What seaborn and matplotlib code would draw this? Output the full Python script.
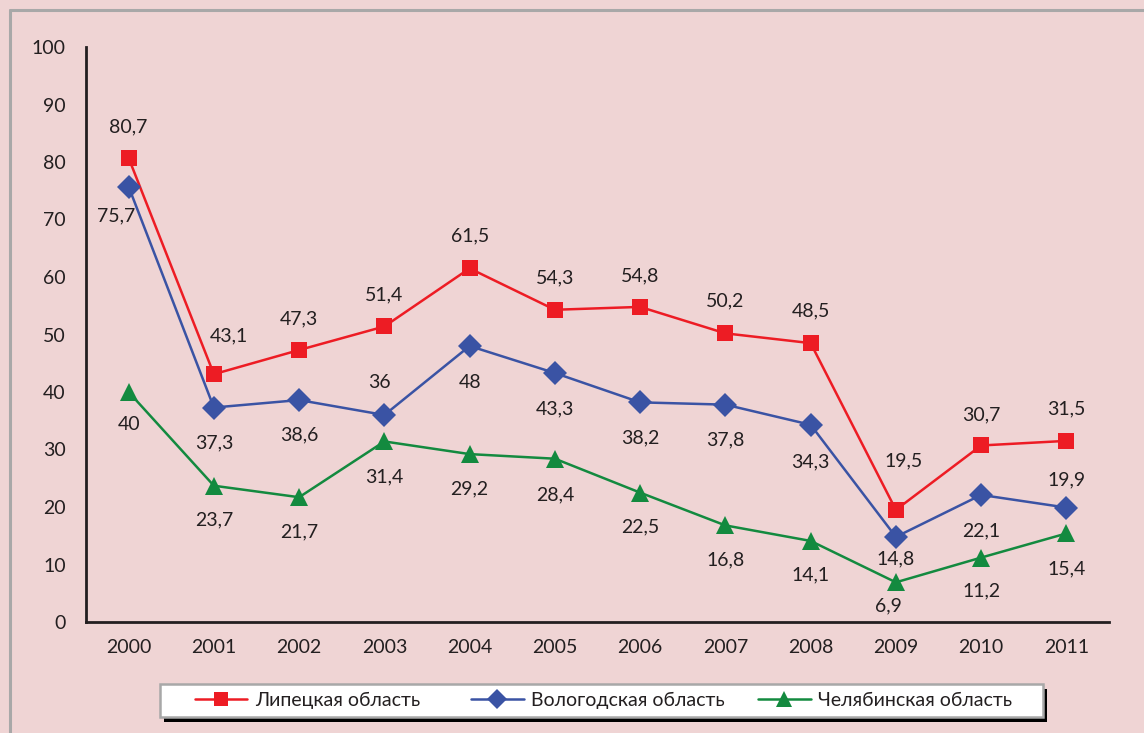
import matplotlib
matplotlib.use("Agg")
import matplotlib.pyplot as plt
import matplotlib.patches as mpatches
from matplotlib.lines import Line2D
import seaborn as sns

years = [2000, 2001, 2002, 2003, 2004, 2005, 2006, 2007, 2008, 2009, 2010, 2011]
lipetsk = [80.7, 43.1, 47.3, 51.4, 61.5, 54.3, 54.8, 50.2, 48.5, 19.5, 30.7, 31.5]
vologda = [75.7, 37.3, 38.6, 36, 48, 43.3, 38.2, 37.8, 34.3, 14.8, 22.1, 19.9]
chelyabinsk = [40, 23.7, 21.7, 31.4, 29.2, 28.4, 22.5, 16.8, 14.1, 6.9, 11.2, 15.4]
regions = ["Липецкая область", "Вологодская область", "Челябинская область"]

# label offsets (pixels) from each point
lip_off = [(0, 31), (15, 38), (0, 31), (0, 32), (0, 32), (0, 32), (0, 31), (0, 32), (0, 32), (8, 49), (0, 31), (0, 32)]
vol_off = [(-13, -29), (0, -35), (0, -35), (-5, 33), (0, -36), (0, -36), (0, -36), (0, -35), (0, -37), (0, -22), (0, -36), (0, 28)]
che_off = [(0, -33), (0, -34), (0, -35), (0, -35), (0, -35), (0, -36), (0, -34), (0, -34), (0, -34), (-7, -24), (0, -33), (0, -35)]

BG = "#EFD4D4"
TXT = "#231F20"
RED, BLUE, GREEN = "#ED1C24", "#3A53A4", "#138A3F"
W, H = 1144, 733
FS = 14

sns.set_style("white")
plt.rcParams["font.family"] = ["Lato", "DejaVu Sans"]

fig = plt.figure(figsize=(W / 100, H / 100), dpi=100, facecolor=BG)
ax = fig.add_axes([86 / W, 1 - 622 / H, 1023 / W, 575 / H])
ax.set_facecolor(BG)

series = [
    (lipetsk, RED, "s", 11.5, lip_off),
    (vologda, BLUE, "D", 12, vol_off),
    (chelyabinsk, GREEN, "^", 13.5, che_off),
]
for (vals, col, mk, ms, offs), name in zip(series, regions):
    sns.lineplot(x=years, y=vals, ax=ax, color=col, marker=mk, markersize=ms,
                 markeredgewidth=0, linewidth=1.8, legend=False)
    for x, v, (dx, dy) in zip(years, vals, offs):
        ax.annotate(f"{v:g}".replace(".", ","), (x, v), xytext=(dx, dy),
                    textcoords="offset pixels", ha="center", va="center",
                    fontsize=FS, color=TXT)

ax.set_ylim(0, 100)
ax.set_xlim(1999.5, 2011.5)
ax.set_yticks(range(0, 101, 10))
ax.set_xticks(years)
ax.set_xticks([y + 0.5 for y in [1999] + years], minor=True)
ax.tick_params(axis="y", direction="out", length=4.5, width=1.6, pad=10,
               labelsize=FS, colors=TXT)
ax.tick_params(axis="x", which="major", length=0, pad=12, labelsize=FS, colors=TXT)
ax.tick_params(axis="x", which="minor", direction="out", length=4.5, width=1.6, color=TXT)
ax.set_xlabel("")
ax.set_ylabel("")
ax.grid(False)
for s in ["top", "right"]:
    ax.spines[s].set_visible(False)
for s in ["left", "bottom"]:
    ax.spines[s].set_color(TXT)
    ax.spines[s].set_linewidth(2)

# outer frame (only top and left edges visible)
fig.add_artist(Line2D([10 / W, 10 / W], [0, 1 - 10 / H], transform=fig.transFigure,
                      color="#A8A8A8", lw=2.2))
fig.add_artist(Line2D([10 / W, 1], [1 - 10 / H, 1 - 10 / H], transform=fig.transFigure,
                      color="#A8A8A8", lw=2.2))

# legend box with shadow
fig.add_artist(mpatches.Rectangle((164 / W, 1 - 722 / H), 883 / W, 33 / H,
                                  transform=fig.transFigure, facecolor="black",
                                  edgecolor="none"))
fig.add_artist(mpatches.Rectangle((160 / W, 1 - 717 / H), 883 / W, 33 / H,
                                  transform=fig.transFigure, facecolor="white",
                                  edgecolor="#A8A8A8", lw=1.8))

leg_x = [195, 471, 758]
for (vals, col, mk, ms, offs), name, lx in zip(series, regions, leg_x):
    h = Line2D([], [], color=col, marker=mk, markersize=ms * 0.85,
               markeredgewidth=0, linewidth=1.8)
    fig.legend(handles=[h], labels=[name], loc="center left",
               bbox_to_anchor=(lx / W, 1 - 700 / H), frameon=False,
               borderpad=0, borderaxespad=0, handlelength=2.7,
               handletextpad=0.4, fontsize=FS, labelcolor=TXT)

fig.savefig("out.png", dpi=100, facecolor=BG)
